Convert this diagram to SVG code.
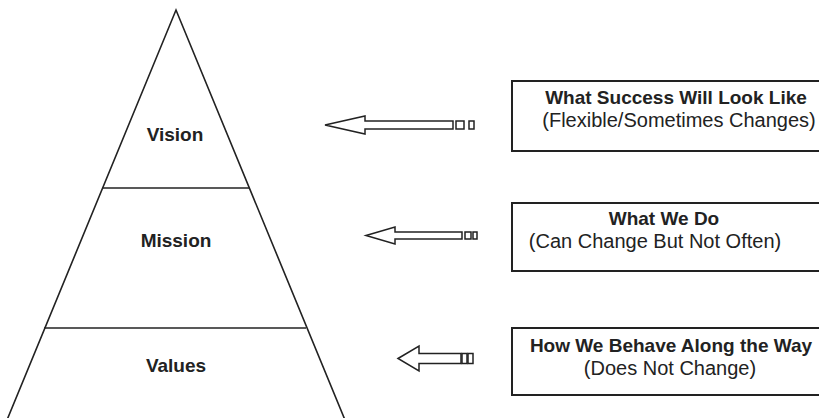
<svg xmlns="http://www.w3.org/2000/svg" width="819" height="418" viewBox="0 0 819 418">
<style>
.ln{fill:none;stroke:#222;stroke-width:1.6}
.bx{fill:#fff;stroke:#222;stroke-width:2}
.ar{fill:#fff;stroke:#222;stroke-width:1.5;stroke-linejoin:miter}
.t{font-family:"Liberation Sans",Arial,sans-serif;fill:#222;text-anchor:middle}
.b{font-weight:bold;font-size:19px}
.r{font-size:20px}
</style>
<rect width="819" height="418" fill="#fff"/>
<g id="pyramid">
<path class="ln" d="M7,420 L176,10 L345,420"/>
</g>
<g id="vision">
<line class="ln" x1="102" y1="188" x2="249" y2="188"/>
<text class="t b" x="175" y="141">Vision</text>
</g>
<g id="mission">
<line class="ln" x1="44" y1="328" x2="306" y2="328"/>
<text class="t b" x="176" y="247">Mission</text>
</g>
<g id="values">
<text class="t b" x="176" y="372">Values</text>
</g>
<g id="connectors">
<path class="ar" d="M325,125 L365,116 L365,121 L453,121 L453,129 L365,129 L365,134 Z"/>
<rect class="ar" x="456" y="121" width="8" height="8"/>
<rect class="ar" x="469" y="121" width="5" height="8"/>
<path class="ar" d="M366,235.5 L395,227 L395,232 L462,232 L462,239 L395,239 L395,244 Z"/>
<rect class="ar" x="465" y="232" width="6" height="7"/>
<rect class="ar" x="473" y="232" width="4" height="7"/>
<path class="ar" d="M398,358.5 L419,346 L419,353.5 L461,353.5 L461,363.5 L419,363.5 L419,371 Z"/>
<rect class="ar" x="462" y="353.5" width="5" height="10"/>
<rect class="ar" x="468" y="353.5" width="5" height="10"/>
</g>
<g id="box-vision">
<rect class="bx" x="512" y="81" width="320" height="70"/>
<text class="t b" x="676" y="104">What Success Will Look Like</text>
<text class="t r" x="679" y="127">(Flexible/Sometimes Changes)</text>
</g>
<g id="box-mission">
<rect class="bx" x="512" y="203" width="320" height="68"/>
<text class="t b" x="664" y="225">What We Do</text>
<text class="t r" x="655" y="248">(Can Change But Not Often)</text>
</g>
<g id="box-values">
<rect class="bx" x="512" y="328" width="320" height="67"/>
<text class="t b" x="671" y="352">How We Behave Along the Way</text>
<text class="t r" x="670" y="375">(Does Not Change)</text>
</g>
</svg>
